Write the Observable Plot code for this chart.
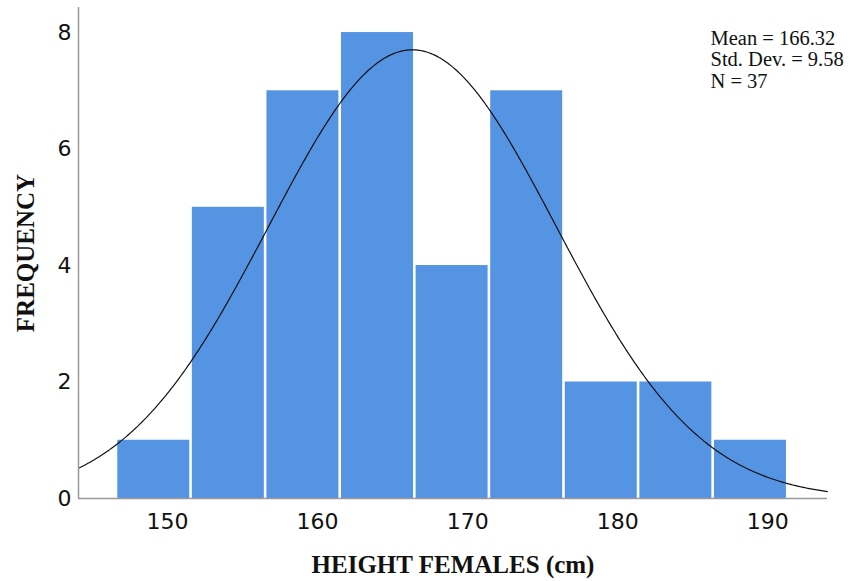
<!DOCTYPE html>
<html>
<head>
<meta charset="utf-8">
<script src="https://cdn.jsdelivr.net/npm/d3@7"></script>
<script src="https://cdn.jsdelivr.net/npm/@observablehq/plot@0.6"></script>
<style>
  html, body { margin: 0; padding: 0; background: #fff; }
</style>
</head>
<body>
<div id="chart"></div>
<script>
// Histogram bins (cm) and counts
const binLower = [146.6, 151.57, 156.54, 161.51, 166.48, 171.45, 176.42, 181.39, 186.36];
const binUpper = [151.57, 156.54, 161.51, 166.48, 171.45, 176.42, 181.39, 186.36, 191.33];
const counts = [1, 5, 7, 8, 4, 7, 2, 2, 1];

// Summary statistics shown in the chart
const statMean = 166.32;
const statSD = 9.58;
const statN = 37;
const statBinWidth = 5;

const xTicks = [150, 160, 170, 180, 190];
const yTicks = [0, 2, 4, 6, 8];
const xDomain = [144.07, 193.98];
const yDomain = [0, 8.43];

const bins = binLower.map((lo, i) => ({lo, hi: binUpper[i], count: counts[i]}));

// Fitted normal curve (defined by the stated mean, SD and N)
const curveX = d3.range(xDomain[0], xDomain[1] + 0.001, 0.1);
const curve = curveX.map(x => ({
  x,
  y: statN * statBinWidth * Math.exp(-0.5 * ((x - statMean) / statSD) ** 2) / (statSD * Math.sqrt(2 * Math.PI))
}));

const statsText = `Mean = ${statMean.toFixed(2)}\nStd. Dev. = ${statSD.toFixed(2)}\nN = ${statN}`;

const plot = Plot.plot({
  width: 853,
  height: 581,
  marginLeft: 78,
  marginRight: 26,
  marginTop: 7,
  marginBottom: 83,
  style: {fontFamily: "DejaVu Sans", fontSize: "22px", color: "#111", background: "#fff"},
  x: {domain: xDomain, ticks: xTicks, tickSize: 0, tickPadding: 15, label: null},
  y: {domain: yDomain, ticks: yTicks, tickSize: 0, tickPadding: 7, label: null},
  marks: [
    Plot.rectY(bins, {x1: "lo", x2: "hi", y: "count", fill: "#5594e3", insetLeft: 1.3, insetRight: 1.3}),
    Plot.line(curve, {x: "x", y: "y", stroke: "#111", strokeWidth: 1.2}),
    Plot.ruleX([xDomain[0]], {stroke: "#999", strokeWidth: 1.5}),
    Plot.ruleY([0], {stroke: "#999", strokeWidth: 1.5}),
    Plot.text([statsText], {
      frameAnchor: "top-right", textAnchor: "start", dx: -117, dy: 22,
      lineAnchor: "top", lineHeight: 1.05,
      fontFamily: "Liberation Serif", fontSize: 20.5, fill: "#111"
    }),
    Plot.text(["HEIGHT FEMALES (cm)"], {
      frameAnchor: "bottom", dy: 74, lineAnchor: "bottom",
      fontFamily: "Liberation Serif", fontWeight: "bold", fontSize: 25, fill: "#111"
    }),
    Plot.text(["FREQUENCY"], {
      frameAnchor: "left", dx: -53, rotate: -90, textAnchor: "middle", lineAnchor: "middle",
      fontFamily: "Liberation Serif", fontWeight: "bold", fontSize: 25, fill: "#111"
    })
  ]
});
document.getElementById("chart").appendChild(plot);
</script>
</body>
</html>
